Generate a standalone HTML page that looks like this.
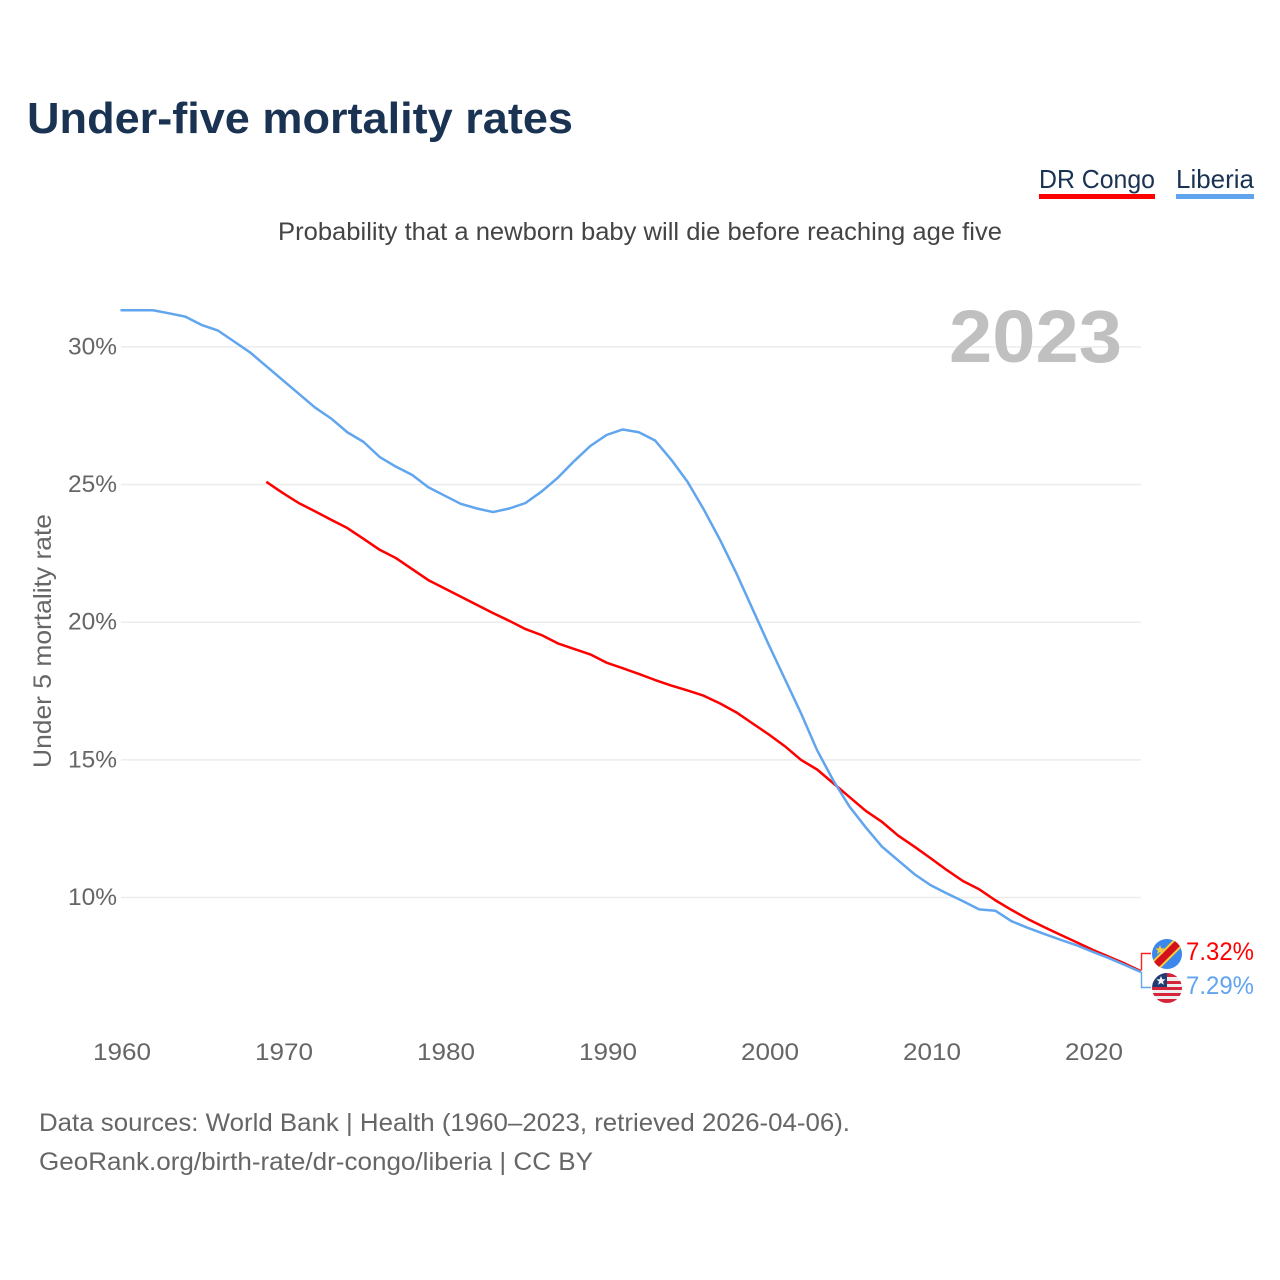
<!DOCTYPE html>
<html lang="en">
<head>
<meta charset="utf-8">
<title>Under-five mortality rates</title>
<style>
html,body{margin:0;padding:0;background:#fff;}
svg{display:block;font-family:"Liberation Sans",sans-serif;}
</style>
</head>
<body>
<svg id="chart" xmlns="http://www.w3.org/2000/svg" width="1280" height="1280" viewBox="0 0 1280 1280">
  <rect x="0" y="0" width="1280" height="1280" fill="#ffffff"/>
  <text x="27" y="133" font-size="44" font-weight="700" fill="#1a3353" textLength="546" lengthAdjust="spacingAndGlyphs">Under-five mortality rates</text>
  <text x="278" y="240" font-size="25" fill="#444444" textLength="724" lengthAdjust="spacingAndGlyphs">Probability that a newborn baby will die before reaching age five</text>

  <g>
    <text x="1039" y="188" font-size="26" fill="#1a3353" textLength="116" lengthAdjust="spacingAndGlyphs">DR Congo</text>
    <rect x="1039" y="194" width="116" height="5" fill="#ff0000"/>
  </g>
  <g>
    <text x="1176" y="188" font-size="26" fill="#1a3353" textLength="78" lengthAdjust="spacingAndGlyphs">Liberia</text>
    <rect x="1176" y="194" width="78" height="5" fill="#60a5ee"/>
  </g>

  <g id="grid"></g>
  <g id="yticks"></g>
  <g id="xticks"></g>

  <text x="949" y="362" font-size="74" font-weight="700" fill="#c0c0c0" textLength="173" lengthAdjust="spacingAndGlyphs">2023</text>
  <text transform="translate(51,768) rotate(-90)" x="0" y="0" font-size="25" fill="#666666" textLength="254" lengthAdjust="spacingAndGlyphs">Under 5 mortality rate</text>

  <g id="series"></g>

  <path d="M1151 953.5H1141.5V970" fill="none" stroke="#ff2020" stroke-width="1.4"/>
  <path d="M1141.5 972V987.5H1151" fill="none" stroke="#60a5ee" stroke-width="1.4"/>

  <defs>
    <clipPath id="clip-cd"><circle cx="1167" cy="954" r="15"/></clipPath>
    <clipPath id="clip-lr"><circle cx="1167" cy="988" r="15"/></clipPath>
  </defs>
  <g clip-path="url(#clip-cd)">
    <rect x="1150" y="937" width="34" height="34" fill="#3b87ee"/>
    <path d="M1150 971L1184 937" stroke="#f7d038" stroke-width="11"/>
    <path d="M1150 971L1184 937" stroke="#d6111e" stroke-width="7"/>
    <polygon points="1160,945 1161.3,948.4 1164.8,948.5 1162,950.6 1163,954 1160,952 1157,954 1158,950.6 1155.2,948.5 1158.7,948.4" fill="#f7d038"/>
  </g>
  <g clip-path="url(#clip-lr)">
    <rect x="1150" y="973" width="34" height="30" fill="#eeeeee"/>
    <rect x="1150" y="973" width="34" height="4" fill="#d6243a"/>
    <rect x="1150" y="981" width="34" height="3" fill="#d6243a"/>
    <rect x="1150" y="987" width="34" height="3" fill="#d6243a"/>
    <rect x="1150" y="993" width="34" height="3" fill="#d6243a"/>
    <rect x="1150" y="999" width="34" height="4" fill="#d6243a"/>
    <rect x="1150" y="973" width="17" height="14" fill="#1f3c73"/>
    <polygon points="1161,976 1162.3,979.2 1165.6,979.4 1163,981.5 1163.9,984.8 1161,983 1158.1,984.8 1159,981.5 1156.4,979.4 1159.7,979.2" fill="#f2f2f2"/>
  </g>

  <text x="1186" y="960" font-size="25" fill="#ff0000" textLength="68" lengthAdjust="spacingAndGlyphs">7.32%</text>
  <text x="1186" y="994" font-size="25" fill="#60a5ee" textLength="68" lengthAdjust="spacingAndGlyphs">7.29%</text>

  <text x="39" y="1131" font-size="25" fill="#666666" textLength="811" lengthAdjust="spacingAndGlyphs">Data sources: World Bank | Health (1960–2023, retrieved 2026-04-06).</text>
  <text x="39" y="1170" font-size="25" fill="#666666" textLength="554" lengthAdjust="spacingAndGlyphs">GeoRank.org/birth-rate/dr-congo/liberia | CC BY</text>
</svg>
<script>
var xTickYears = [1960, 1970, 1980, 1990, 2000, 2010, 2020];
var yTickValues = [10, 15, 20, 25, 30];
var liberiaStartYear = 1960;
var liberiaValues = [31.33,31.33,31.33,31.22,31.1,30.8,30.6,30.2,29.8,29.3,28.8,28.3,27.8,27.4,26.9,26.55,26.0,25.65,25.35,24.9,24.6,24.3,24.13,24.0,24.13,24.33,24.75,25.25,25.85,26.4,26.8,27.0,26.9,26.6,25.9,25.1,24.1,23.0,21.8,20.5,19.2,17.95,16.7,15.35,14.25,13.3,12.55,11.85,11.35,10.85,10.45,10.15,9.87,9.57,9.52,9.14,8.9,8.68,8.47,8.27,8.03,7.8,7.55,7.29];
var congoStartYear = 1969;
var congoValues = [25.1,24.7,24.33,24.03,23.72,23.42,23.03,22.63,22.33,21.93,21.53,21.23,20.93,20.63,20.33,20.05,19.75,19.53,19.23,19.03,18.83,18.53,18.33,18.12,17.9,17.7,17.52,17.33,17.05,16.73,16.33,15.93,15.5,15.0,14.65,14.15,13.65,13.15,12.75,12.25,11.85,11.43,11.0,10.6,10.3,9.9,9.55,9.22,8.93,8.65,8.38,8.1,7.85,7.6,7.32];

var SVG_NS = 'http://www.w3.org/2000/svg';
function xScale(year) { return 120.5 + (year - 1960) * 16.2; }
function yScale(value) { return 897.5 - (value - 10) * 27.53; }

var gridGroup = document.getElementById('grid');
var yTickGroup = document.getElementById('yticks');
var xTickGroup = document.getElementById('xticks');
var seriesGroup = document.getElementById('series');

yTickValues.forEach(function (value) {
  var line = document.createElementNS(SVG_NS, 'line');
  
  
  line.setAttribute('x1', 121);
  line.setAttribute('x2', 1141);
  line.setAttribute('y1', yScale(value));
  line.setAttribute('y2', yScale(value));
  line.setAttribute('stroke', '#ececec');
  line.setAttribute('stroke-width', 1.5);
  gridGroup.appendChild(line);

  var label = document.createElementNS(SVG_NS, 'text');
  
  
  label.setAttribute('x', 117);
  label.setAttribute('y', yScale(value) + 7.5);
  label.setAttribute('text-anchor', 'end');
  label.setAttribute('font-size', 24.5);
  label.setAttribute('fill', '#666666');
  label.setAttribute('textLength', 49);
  label.setAttribute('lengthAdjust', 'spacingAndGlyphs');
  label.textContent = value + '%';
  yTickGroup.appendChild(label);
});

xTickYears.forEach(function (year) {
  var label = document.createElementNS(SVG_NS, 'text');
  
  
  label.setAttribute('x', xScale(year) + 1.5);
  label.setAttribute('y', 1060);
  label.setAttribute('text-anchor', 'middle');
  label.setAttribute('font-size', 24.5);
  label.setAttribute('fill', '#666666');
  label.setAttribute('textLength', 58);
  label.setAttribute('lengthAdjust', 'spacingAndGlyphs');
  label.textContent = year;
  xTickGroup.appendChild(label);
});

function buildPoints(startYear, values) {
  return values.map(function (value, index) {
    return xScale(startYear + index).toFixed(2) + ',' + yScale(value).toFixed(2);
  }).join(' ');
}

var liberiaLine = document.createElementNS(SVG_NS, 'polyline');


liberiaLine.setAttribute('points', buildPoints(liberiaStartYear, liberiaValues));
liberiaLine.setAttribute('fill', 'none');
liberiaLine.setAttribute('stroke', '#60a5ee');
liberiaLine.setAttribute('stroke-width', 2.5);
liberiaLine.setAttribute('stroke-linejoin', 'round');
seriesGroup.appendChild(liberiaLine);

var congoLine = document.createElementNS(SVG_NS, 'polyline');


congoLine.setAttribute('points', buildPoints(congoStartYear, congoValues));
congoLine.setAttribute('fill', 'none');
congoLine.setAttribute('stroke', '#ff0000');
congoLine.setAttribute('stroke-width', 2.5);
congoLine.setAttribute('stroke-linejoin', 'round');
seriesGroup.insertBefore(congoLine, liberiaLine);
</script>
</body>
</html>
